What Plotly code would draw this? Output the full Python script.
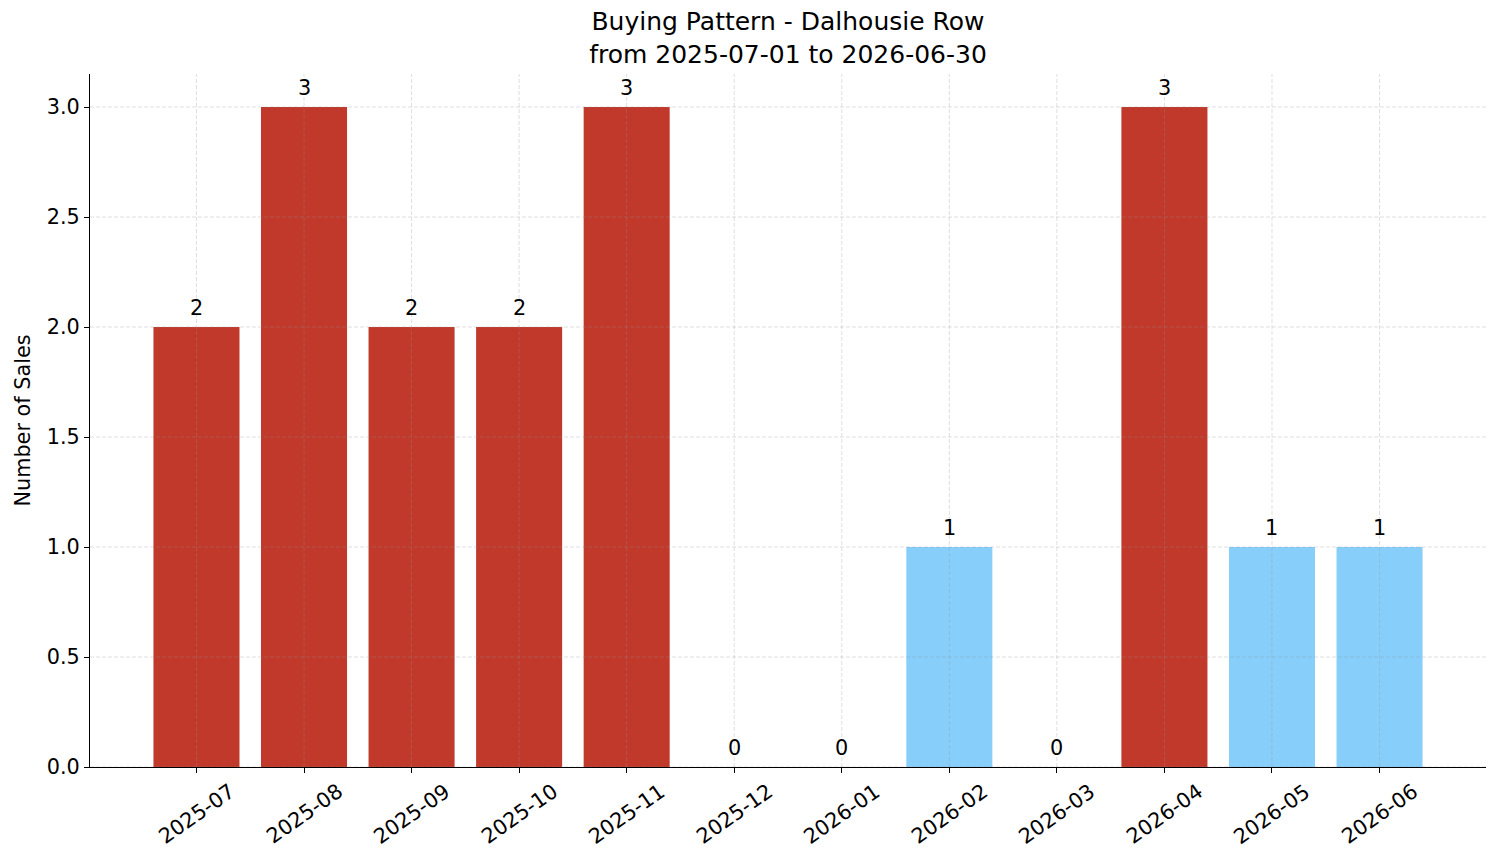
import plotly.graph_objects as go

months = ["2025-07", "2025-08", "2025-09", "2025-10", "2025-11", "2025-12",
          "2026-01", "2026-02", "2026-03", "2026-04", "2026-05", "2026-06"]
sales = [2, 3, 2, 2, 3, 0, 0, 1, 0, 3, 1, 1]
y_ticks = [0.0, 0.5, 1.0, 1.5, 2.0, 2.5, 3.0]

RED = "#c0392b"
BLUE = "#87cefa"
colors = [RED if v >= 2 else BLUE for v in sales]
FONT = "DejaVu Sans"
idx = list(range(len(months)))

fig = go.Figure()
fig.add_trace(go.Bar(x=idx, y=sales, width=0.8, marker=dict(color=colors, line=dict(width=0)),
                     hoverinfo="skip"))

shapes = []
grid = dict(color="rgba(150,150,150,0.38)", width=0.8, dash="4px,2px")
for i in idx:
    shapes.append(dict(type="line", xref="x", yref="paper", x0=i, x1=i, y0=0, y1=1,
                       line=grid, layer="above"))
for t in y_ticks:
    shapes.append(dict(type="line", xref="paper", yref="y", x0=0, x1=1, y0=t, y1=t,
                       line=grid, layer="above"))

annotations = []
for i, v in zip(idx, sales):
    annotations.append(dict(x=i, y=v, xref="x", yref="y", text=str(v), showarrow=False,
                            yanchor="bottom", xanchor="center", yshift=5,
                            font=dict(family=FONT, size=20.8, color="black")))
for i, m in zip(idx, months):
    annotations.append(dict(x=i, y=0, xref="x", yref="paper", text=m, showarrow=False,
                            yanchor="top", xanchor="center", yshift=-9, textangle=-35,
                            font=dict(family=FONT, size=20.8, color="black")))

fig.update_layout(
    width=1501, height=863,
    margin=dict(l=90, r=15, t=74, b=96, autoexpand=False),
    paper_bgcolor="white", plot_bgcolor="white",
    showlegend=False,
    font=dict(family=FONT, size=20.8, color="black"),
    title=dict(text="Buying Pattern - Dalhousie Row<br>from 2025-07-01 to 2026-06-30",
               x=0.5, xref="paper", xanchor="center",
               y=1 - 30 / 863, yref="container", yanchor="top",
               font=dict(family=FONT, size=25, color="black")),
    xaxis=dict(range=[-0.99, 11.99], tickvals=idx, showticklabels=False,
               ticks="outside", ticklen=5, tickwidth=1.2, tickcolor="black",
               showline=True, linecolor="black", linewidth=1.2,
               showgrid=False, zeroline=False, fixedrange=True),
    yaxis=dict(range=[0, 3.15], tickvals=y_ticks, tickformat=".1f",
               ticks="outside", ticklen=5, tickwidth=1.2, tickcolor="black",
               showline=True, linecolor="black", linewidth=1.2,
               showgrid=False, zeroline=False, automargin=False,
               title=dict(text="Number of Sales", standoff=10,
                          font=dict(family=FONT, size=20.8, color="black")),
               tickfont=dict(family=FONT, size=20.8, color="black")),
    shapes=shapes,
    annotations=annotations,
)

fig.write_html("out.html")
